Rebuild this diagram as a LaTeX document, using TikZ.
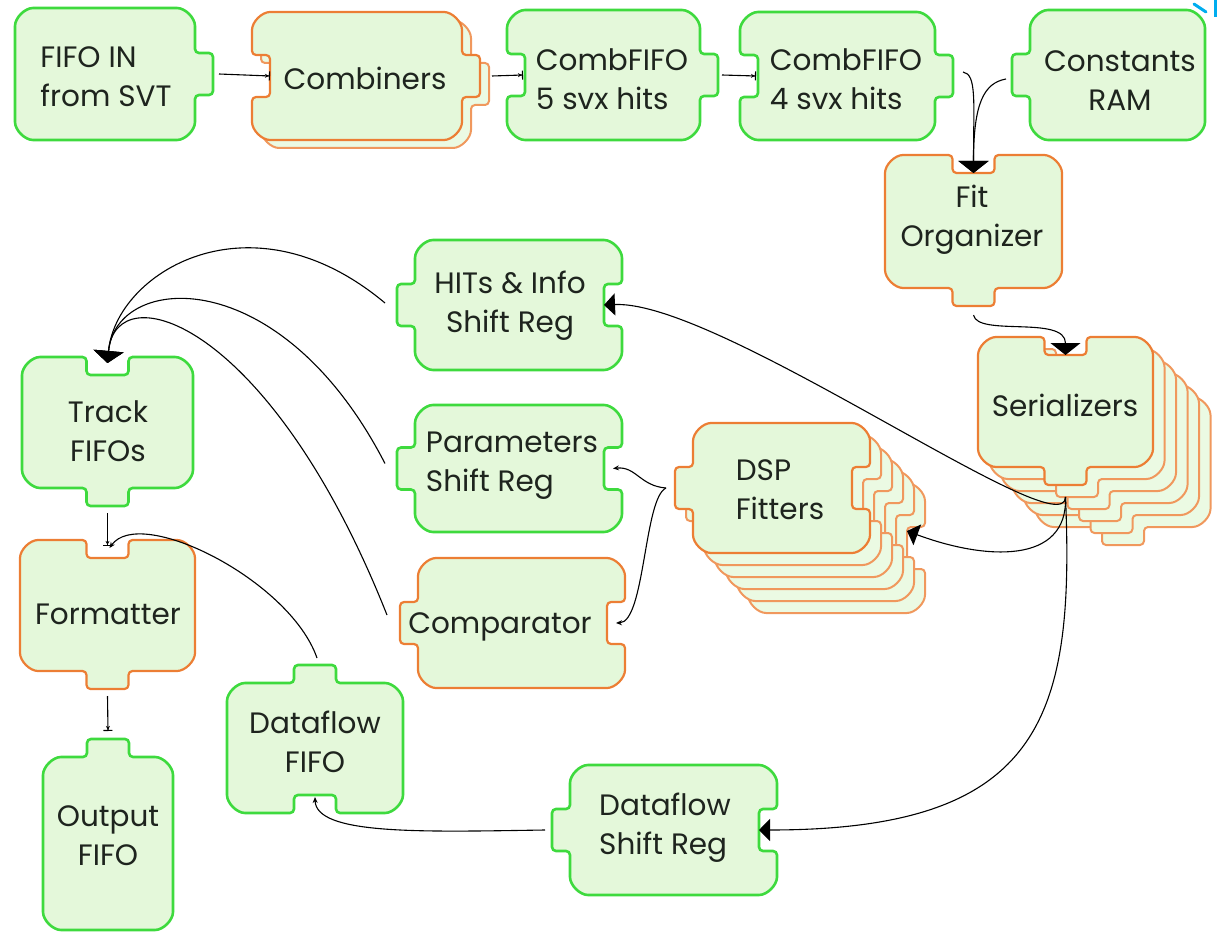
\documentclass[tikz,border=0pt]{standalone}
\usepackage{fontspec}
\setmainfont{Poppins}
\usetikzlibrary{arrows.meta,calc}

\definecolor{gline}{RGB}{62,218,62}
\definecolor{oline}{RGB}{236,126,52}
\definecolor{bfill}{RGB}{228,248,218}
\definecolor{ink}{RGB}{30,36,30}

\tikzset{
  gbox/.style={draw=gline,fill=bfill,line width=2.6pt},
  obox/.style={draw=oline,fill=bfill,line width=2.2pt},
  oback/.style={draw=oline!80,fill=bfill!75!white,line width=2pt},
  txt/.style={font=\fontsize{29.5}{39}\selectfont,text=ink,align=center,inner sep=0pt},
  wire/.style={line width=1.1pt,black},
  bigtip/.style={-{Triangle[width=30pt,length=12pt]}},
  midtip/.style={-{Triangle[width=22pt,length=11pt]}},
  smalltip/.style={-{Stealth[length=6pt,width=5pt]}},
  teetip/.style={-{Stealth[length=4pt,width=4pt]Bar[width=9pt]}},
}

% puzzle block: side codes 0 = plain, 1 = notch, 2 = tab
\def\pzw{21}\def\pzd{18}\def\pzr{22}
\def\getfour#1,#2,#3,#4\relax{\def\qa{#1}\def\qb{#2}\def\qc{#3}\def\qd{#4}}
\def\pzsgn#1{\ifcase#1 0\or 1\or -1\fi}
\newcommand\puz[4]{%
  \getfour#2\relax
  \let\xa\qa \let\ya\qb \let\xb\qc \let\yb\qd
  \getfour#3\relax
  \let\fL\qa \let\fT\qb \let\fR\qc \let\fB\qd
  \pgfmathsetmacro\mx{(\xa+\xb)/2}%
  \pgfmathsetmacro\my{(\ya+\yb)/2}%
  \pgfmathsetmacro\xL{\xa+(\pzsgn\fL)*\pzd}%
  \pgfmathsetmacro\xR{\xb-(\pzsgn\fR)*\pzd}%
  \pgfmathsetmacro\yT{\ya+(\pzsgn\fT)*\pzd}%
  \pgfmathsetmacro\yB{\yb-(\pzsgn\fB)*\pzd}%
  \ifnum\fT>0 \def\pT{-- (\mx-\pzw,\ya) -- (\mx-\pzw,\yT) -- (\mx+\pzw,\yT) -- (\mx+\pzw,\ya)}\else\def\pT{}\fi
  \ifnum\fR>0 \def\pR{-- (\xb,\my-\pzw) -- (\xR,\my-\pzw) -- (\xR,\my+\pzw) -- (\xb,\my+\pzw)}\else\def\pR{}\fi
  \ifnum\fB>0 \def\pB{-- (\mx+\pzw,\yb) -- (\mx+\pzw,\yB) -- (\mx-\pzw,\yB) -- (\mx-\pzw,\yb)}\else\def\pB{}\fi
  \ifnum\fL>0 \def\pL{-- (\xa,\my+\pzw) -- (\xL,\my+\pzw) -- (\xL,\my-\pzw) -- (\xa,\my-\pzw)}\else\def\pL{}\fi
  \draw[#4,rounded corners=4pt] (\xa,\ya+\pzr) arc[start angle=180,end angle=270,radius=\pzr]
    \pT -- (\xb-\pzr,\ya) arc[start angle=-90,end angle=0,radius=\pzr]
    \pR -- (\xb,\yb-\pzr) arc[start angle=0,end angle=90,radius=\pzr]
    \pB -- (\xa+\pzr,\yb) arc[start angle=90,end angle=180,radius=\pzr]
    \pL -- cycle;
  \coordinate (#1-t) at (\mx,\yT);
  \coordinate (#1-b) at (\mx,\yB);
  \coordinate (#1-l) at (\xL,\my);
  \coordinate (#1-r) at (\xR,\my);
}
% stack of blocks: name, box, sides, back layers, dx, dy
\newcommand\pzstack[6]{%
  \getfour#2\relax
  \edef\sxa{\qa}\edef\sya{\qb}\edef\sxb{\qc}\edef\syb{\qd}%
  \foreach \k in {#4,...,1}{%
    \pgfmathsetmacro\ox{\sxa+\k*#5}\pgfmathsetmacro\oy{\sya+\k*#6}%
    \pgfmathsetmacro\oxx{\sxb+\k*#5}\pgfmathsetmacro\oyy{\syb+\k*#6}%
    \puz{#1\k}{\ox,\oy,\oxx,\oyy}{#3}{oback}%
  }%
  \puz{#1}{#2}{#3}{obox}%
}

\begin{document}
\begin{tikzpicture}[x=1pt,y=-1pt]
\useasboundingbox (0,0) rectangle (1219,936);

% ---- blocks ----
\puz{fifoin}{15,8,195,140}{0,0,2,0}{gbox}
\pzstack{comb}{252,12,462,140}{1,0,2,0}{1}{9}{8}
\puz{cfa}{507,10,700,140}{1,0,2,0}{gbox}
\puz{cfb}{740,12,935,140}{1,0,2,0}{gbox}
\puz{const}{1030,10,1205,140}{2,0,0,0}{gbox}
\puz{fit}{885,155,1062,288}{0,1,0,2}{obox}
\pzstack{ser}{978,337,1153,467}{0,1,0,2}{5}{11.5}{12}
\puz{track}{22,357,193,488}{0,1,0,2}{gbox}
\puz{fmt}{20,540,195,671}{0,1,0,2}{obox}
\puz{out}{43,757,173,930}{0,2,0,0}{gbox}
\puz{dff}{227,683,403,813}{0,2,0,1}{gbox}
\puz{hits}{415,240,622,370}{2,0,1,0}{gbox}
\puz{params}{415,405,622,532}{2,0,1,0}{gbox}
\puz{comp}{418,558,625,688}{2,0,1,0}{obox}
\pzstack{dsp}{693,423,870,553}{2,0,1,0}{5}{11}{12}
\puz{dsr}{570,765,777,895}{2,0,1,0}{gbox}

% ---- labels ----
\node[txt,align=left] (fifoin-txt) at (106,77) {FIFO IN\\from SVT};
\node[txt] (comb-txt) at (365,78) {Combiners};
\node[txt,align=left] (cfa-txt) at (612,79) {CombFIFO\\5 svx hits};
\node[txt,align=left] (cfb-txt) at (846,79) {CombFIFO\\4 svx hits};
\node[txt] (const-txt) at (1120,81) {Constants\\RAM};
\node[txt] (fit-txt) at (972,220) {Fit\\Organizer};
\node[txt] (ser-txt) at (1065,405) {Serializers};
\node[txt] (track-txt) at (108,431) {Track\\FIFOs};
\node[txt] (fmt-txt) at (108,614) {Formatter};
\node[txt] (out-txt) at (108,836) {Output\\FIFO};
\node[txt] (dff-txt) at (315,742) {Dataflow\\FIFO};
\node[txt] (hits-txt) at (510,306) {HITs \& Info\\Shift Reg};
\node[txt,align=left] (params-txt) at (512,466) {Parameters\\Shift Reg};
\node[txt] (comp-txt) at (500,627) {Comparator};
\node[txt,align=left] (dsp-txt) at (780,490) {DSP\\Fitters};
\node[txt,align=left] (dsr-txt) at (665,828) {Dataflow\\Shift Reg};

% ---- connectors ----
\coordinate (serout) at ($(ser-b)+(0,12)$);
\coordinate (dspj) at ($(dsp-l)+(-9,0)$);
\coordinate (trackin) at ($(track-t)+(0,-12)$);

\draw[wire,teetip] ($(fifoin-r)+(6,0)$) -- (comb-l);
\draw[wire,teetip] ($(comb-r)+(12,0)$) -- ($(cfa-l)+(-2,0)$);
\draw[wire,teetip] ($(cfa-r)+(4,0)$) -- ($(cfb-l)+(-2,0)$);

\draw[wire,bigtip] ($(cfb-r)+(10,-4)$) .. controls +(14,2) and +(0,-70) .. (fit-t);
\draw[wire,bigtip] ($(const-l)+(-6,4)$) .. controls +(-22,4) and +(0,-70) .. (fit-t);
\draw[wire,bigtip] ($(fit-b)+(0,9)$) .. controls +(4,22) and +(0,-40) .. (ser-t);

\draw[wire,midtip] (serout) .. controls (1065,550) and (720,300) .. (hits-r);
\draw[wire,midtip] (serout) .. controls (1068,565) and (985,560) .. ($(dsp-r)+(55,43)$);
\draw[wire,midtip] (serout) .. controls (1075,720) and (1040,830) .. (dsr-r);

\draw[wire,bigtip] ($(hits-l)+(-12,-2)$) .. controls (250,190) and +(8,-90) .. (trackin);
\draw[wire,bigtip] ($(params-l)+(-12,-5)$) .. controls (280,260) and +(8,-90) .. (trackin);
\draw[wire,bigtip] ($(comp-l)+(-13,-8)$) .. controls (270,320) and +(8,-90) .. (trackin);

\draw[wire,teetip] ($(track-b)+(0,7)$) -- ($(fmt-t)+(0,-12)$);
\draw[wire,smalltip] ($(dff-t)+(2,-7)$) .. controls (290,580) and (140,505) .. ($(fmt-t)+(2,-10)$);
\draw[wire,teetip] ($(fmt-b)+(0,7)$) -- ($(out-t)+(0,-8)$);

\draw[wire,smalltip] ($(dsr-l)+(-7,0)$) .. controls (420,832) and (316,835) .. ($(dff-b)+(0,2)$);

\draw[wire,smalltip] (dspj) .. controls (640,486) and (636,466) .. ($(params-r)+(9,0)$);
\draw[wire,smalltip] (dspj) .. controls (644,498) and (645,622) .. ($(comp-r)+(9,0)$);

% corner mark
\draw[cyan,line width=3pt,line cap=round] (1194,4) -- (1206,12);
\draw[cyan,line width=3pt] (1215,0) -- (1215,17);
\end{tikzpicture}
\end{document}
